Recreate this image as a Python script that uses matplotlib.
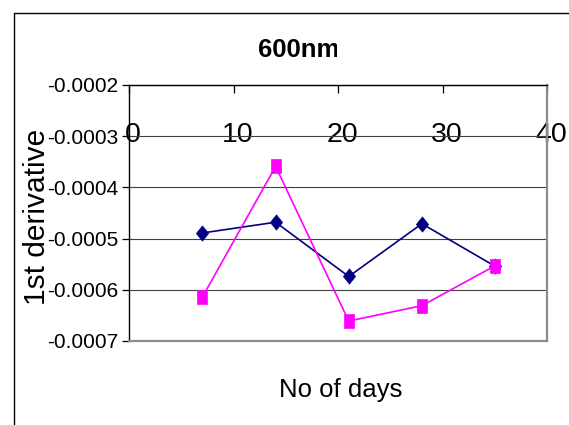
import matplotlib
matplotlib.use("Agg")
import matplotlib.pyplot as plt
from matplotlib import font_manager
from matplotlib.lines import Line2D
from matplotlib.ticker import FormatStrFormatter
from matplotlib.transforms import ScaledTranslation, Bbox

# Data
days = [7, 14, 21, 28, 35]
series_a = [-0.000489, -0.000468, -0.000574, -0.000471, -0.000554]
series_b = [-0.000614, -0.000359, -0.000661, -0.000631, -0.000553]
x_ticks = [0, 10, 20, 30, 40]
y_ticks = [-0.0007, -0.0006, -0.0005, -0.0004, -0.0003, -0.0002]

names = {f.name for f in font_manager.fontManager.ttflist}
base_font = "Liberation Sans" if "Liberation Sans" in names else "DejaVu Sans"
narrow_font = "Liberation Sans Narrow" if "Liberation Sans Narrow" in names else base_font
plt.rcParams["font.family"] = base_font

W, H = 569, 425
fig = plt.figure(figsize=(W / 100, H / 100), dpi=100)
fig.patch.set_facecolor("white")

# plot area in pixel coordinates
left, right, top, bottom = 129.3, 547.3, 85.0, 341.0
ax = fig.add_axes([left / W, 1 - bottom / H, (right - left) / W, (bottom - top) / H])

diamond = [(0, 1), (0.8, 0), (0, -1), (-0.8, 0), (0, 1)]
square = [(-0.82, -1), (0.82, -1), (0.82, 1), (-0.82, 1), (-0.82, -1)]

ax.plot(days, series_a, color="#000080", lw=1.2, marker=diamond, markersize=11,
        markerfacecolor="#000080", markeredgecolor="#000080", markeredgewidth=0.5,
        zorder=3, clip_on=False)
ax.plot(days, series_b, color="#FF00FF", lw=1.2, marker=square, markersize=9.4,
        markerfacecolor="#FF00FF", markeredgecolor="#FF00FF", markeredgewidth=0.5,
        zorder=4, clip_on=False)

ax.set_xlim(0, 40)
ax.set_ylim(-0.0007, -0.0002)
ax.set_yticks(y_ticks)
ax.yaxis.set_major_formatter(FormatStrFormatter("%.4f"))
ax.set_xticks(x_ticks)

ax.yaxis.grid(True, color="#404040", lw=0.8)
ax.set_axisbelow(True)

# spines: axes in black, plot-area border in gray
ax.spines["top"].set_color("black")
ax.spines["top"].set_linewidth(1.0)
ax.spines["left"].set_color("black")
ax.spines["left"].set_linewidth(1.0)
for s in ("right", "bottom"):
    ax.spines[s].set_color("#8c8c8c")
    ax.spines[s].set_linewidth(1.6)

# horizontal axis sits on top, labels drawn inside the plot area
ax.xaxis.tick_top()
ax.tick_params(axis="x", direction="in", length=5.8, width=0.9, color="black",
               labelsize=20.5, pad=-45.5)
ax.tick_params(axis="y", direction="out", length=4.7, width=0.9, color="black",
               labelsize=15, pad=3.2)
shift = ScaledTranslation(4 / 100, 0, fig.dpi_scale_trans)
for lab in ax.get_xticklabels():
    lab.set_transform(lab.get_transform() + shift)

ax.set_ylabel("1st derivative", fontsize=21.5)
ax.yaxis.set_label_coords((51 - left) / (right - left), (bottom - 217) / (bottom - top))
ax.set_xlabel("No of days", fontsize=18.5, family=narrow_font)
ax.xaxis.set_label_coords((341 - left) / (right - left), (bottom - 378) / (bottom - top))

# title, clipped at the chart area edge
title = fig.text(258 / W, 1 - 57 / H, "600nm", ha="left", va="baseline",
                 fontsize=18.5, fontweight="bold", family=narrow_font)
title.set_clip_box(Bbox.from_extents(0, 0, 337, H))
title.set_clip_on(True)

# outer chart frame
fig.add_artist(Line2D([13.5 / W, 13.5 / W, 1.0], [0.0, 1 - 13 / H, 1 - 13 / H],
                      transform=fig.transFigure, color="black", lw=1.0))

fig.savefig("out.png", dpi=100, facecolor="white")
